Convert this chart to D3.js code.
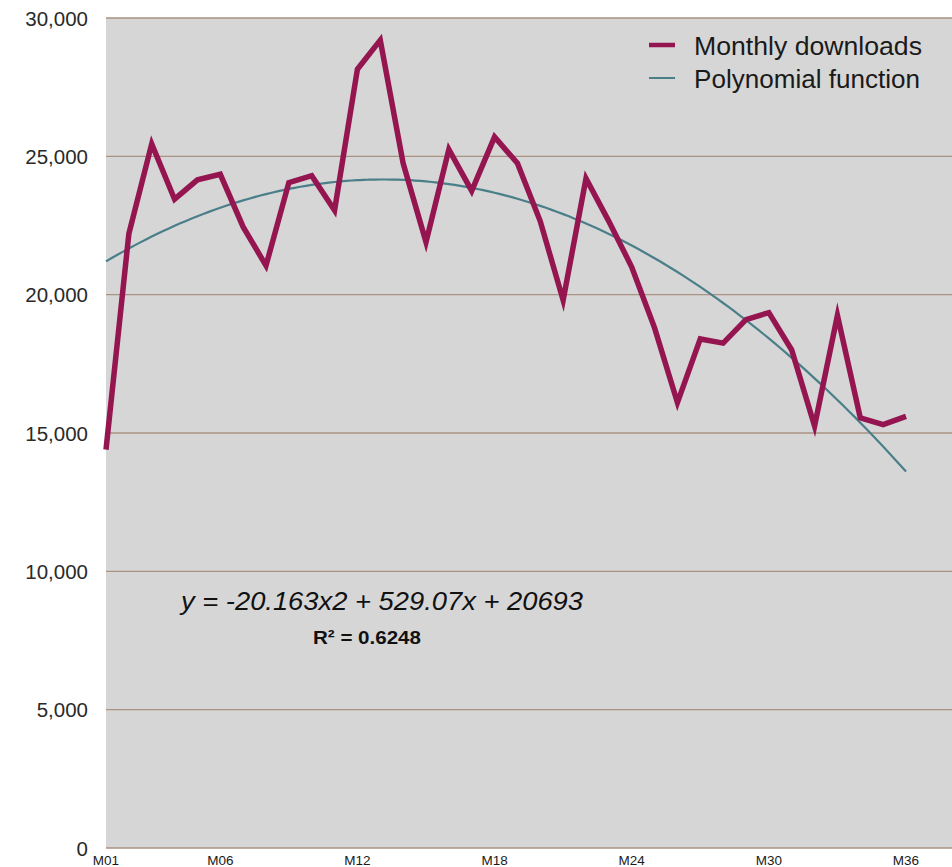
<!DOCTYPE html>
<html>
<head>
<meta charset="utf-8">
<script src="https://cdn.jsdelivr.net/npm/d3@7"></script>
<style>
  html, body { margin: 0; padding: 0; background: #fff; }
  svg { display: block; }
</style>
</head>
<body>
<svg id="chart" width="952" height="867"></svg>
<script>
const months = Array.from({length: 36}, (_, i) => "M" + String(i + 1).padStart(2, "0"));
const downloads = [
  14400, 22200, 25450, 23450, 24150, 24350, 22450, 21050, 24050, 24300,
  23050, 28150, 29200, 24750, 21900, 25250, 23750, 25700, 24750, 22650,
  19800, 24200, 22650, 21000, 18800, 16100, 18400, 18250, 19100, 19350,
  18000, 15250, 19250, 15550, 15300, 15600
];
const trendCoefficients = [-20.163, 529.07, 20693]; // a, b, c for y = a x^2 + b x + c
const xTickLabels = ["M01", "M06", "M12", "M18", "M24", "M30", "M36"];
const yTicks = [0, 5000, 10000, 15000, 20000, 25000, 30000];
const seriesNames = ["Monthly downloads", "Polynomial function"];

const svg = d3.select("#chart");
const pLeft = 106, pRight = 952, pTop = 18, pBottom = 848;
const x = d3.scalePoint().domain(months).range([106, 906]);
const y = d3.scaleLinear().domain([0, 30000]).range([pBottom, pTop]);

// background
svg.append("rect").attr("x", pLeft).attr("y", pTop).attr("width", pRight - pLeft).attr("height", pBottom - pTop).attr("fill", "#d6d6d6");

// gridlines
svg.append("g").selectAll("line").data(yTicks).join("line")
  .attr("x1", pLeft).attr("x2", pRight)
  .attr("y1", d => y(d)).attr("y2", d => y(d))
  .attr("stroke", "#ab9282").attr("stroke-width", 1.3);

// y labels
svg.append("g").selectAll("text").data(yTicks).join("text")
  .attr("x", 88).attr("y", d => y(d) + 7.5)
  .attr("text-anchor", "end")
  .attr("font-family", "Liberation Sans, Arial, sans-serif")
  .attr("font-size", 20.5).attr("fill", "#2a2a2a")
  .text(d => d3.format(",")(d));

// x labels
svg.append("g").selectAll("text").data(xTickLabels).join("text")
  .attr("x", d => x(d)).attr("y", 865)
  .attr("text-anchor", "middle")
  .attr("font-family", "Liberation Sans Narrow, Arial Narrow, Arial, sans-serif")
  .attr("font-size", 13.5).attr("fill", "#1a1a1a")
  .text(d => d);

// trend curve
const trendPts = d3.range(1, 36.01, 0.25).map(t => {
  const [a, b, c] = trendCoefficients;
  return [t, a * t * t + b * t + c];
});
const xNum = d3.scaleLinear().domain([1, 36]).range([x(months[0]), x(months[35])]);
svg.append("path").datum(trendPts)
  .attr("fill", "none").attr("stroke", "#4a7f89").attr("stroke-width", 2.2)
  .attr("d", d3.line().x(d => xNum(d[0])).y(d => y(d[1])).curve(d3.curveMonotoneX));

// downloads line
svg.append("path").datum(downloads)
  .attr("fill", "none").attr("stroke", "#951550").attr("stroke-width", 5.5)
  .attr("stroke-linejoin", "miter").attr("stroke-miterlimit", 10)
  .attr("d", d3.line().x((d, i) => x(months[i])).y(d => y(d)));

// legend
const leg = svg.append("g");
leg.append("line").attr("x1", 649).attr("x2", 675).attr("y1", 45).attr("y2", 45).attr("stroke", "#951550").attr("stroke-width", 4.5);
leg.append("line").attr("x1", 649).attr("x2", 675).attr("y1", 78).attr("y2", 78).attr("stroke", "#4a7f89").attr("stroke-width", 2);
const legWidths = [228, 226];
leg.selectAll("text").data(seriesNames).join("text")
  .attr("x", 694).attr("y", (d, i) => 55 + i * 33)
  .attr("font-family", "Liberation Sans, Arial, sans-serif")
  .attr("font-size", 26).attr("fill", "#1a1a1a")
  .attr("textLength", (d, i) => legWidths[i]).attr("lengthAdjust", "spacingAndGlyphs")
  .text(d => d);

// equation
svg.append("text").attr("x", 181).attr("y", 610)
  .attr("font-family", "Liberation Sans, Arial, sans-serif")
  .attr("font-style", "italic").attr("font-size", 26.5).attr("fill", "#111")
  .attr("textLength", 402).attr("lengthAdjust", "spacingAndGlyphs")
  .text("y = -20.163x2 + 529.07x + 20693");
svg.append("text").attr("x", 313).attr("y", 644)
  .attr("font-family", "Liberation Sans, Arial, sans-serif")
  .attr("font-weight", "bold").attr("font-size", 18.5).attr("fill", "#111")
  .attr("textLength", 108).attr("lengthAdjust", "spacingAndGlyphs")
  .text("R² = 0.6248");
</script>
</body>
</html>
